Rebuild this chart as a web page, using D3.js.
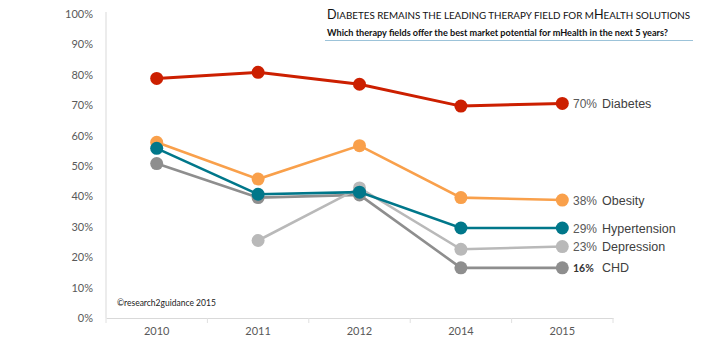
<!DOCTYPE html>
<html><head><meta charset="utf-8">
<script src="https://cdn.jsdelivr.net/npm/d3@7/dist/d3.min.js"></script>
<style>body{margin:0;background:#fff}svg{display:block}</style>
</head><body><svg id="c" width="720" height="340"></svg>
<script>
const years = ["2010","2011","2012","2014","2015"];
const yTicks = [0,10,20,30,40,50,60,70,80,90,100];
const diabetes = [78.8, 80.8, 76.9, 69.7, 70.6];
const obesity = [57.8, 45.7, 56.7, 39.6, 38.8];
const hypertension = [55.8, 40.7, 41.4, 29.6, 29.6];
const depression = [null, 25.5, 42.8, 22.6, 23.5];
const chd = [50.8, 39.6, 40.5, 16.5, 16.5];
const labels = ["70%","38%","29%","23%","16%"];
const names = ["Diabetes","Obesity","Hypertension","Depression","CHD"];
const title = "Diabetes remains the leading therapy field for mHealth solutions";
const subtitle = "Which therapy fields offer the best market potential for mHealth in the next 5 years?";
const copyright = "©research2guidance 2015";

const series = [
  {name:names[0], values:diabetes, label:labels[0], color:"#cc1f00", w:3},
  {name:names[1], values:obesity, label:labels[1], color:"#f9a04b", w:2.6},
  {name:names[4], values:chd, label:labels[4], color:"#8e8e8e", w:2.6, bold:true},
  {name:names[3], values:depression, label:labels[3], color:"#b9b9b9", w:2.6},
  {name:names[2], values:hypertension, label:labels[2], color:"#00778a", w:2.6}
];

const svg = d3.select("#c");
const x = d3.scaleBand().domain(years).range([106, 613]);
const y = d3.scaleLinear().domain([0,100]).range([318, 14]);

// y axis
const ya = svg.append("g").attr("transform","translate(106,0)")
  .call(d3.axisLeft(y).tickValues(yTicks).tickFormat(d=>d+"%").tickSize(0).tickPadding(13));
ya.select(".domain").attr("stroke","#d9d9d9").attr("d","M0,12V318");
ya.selectAll("text").attr("font-family","Lato, 'Open Sans', sans-serif").attr("font-size",11).attr("fill","#595959");

// x axis
const xa = svg.append("g").attr("transform","translate(0,318)")
  .call(d3.axisBottom(x).tickSize(0).tickPadding(9));
xa.select(".domain").attr("stroke","#d9d9d9");
xa.selectAll("text").attr("font-family","Lato, 'Open Sans', sans-serif").attr("font-size",11).attr("fill","#595959");
xa.selectAll(".sep").data(years.concat(["end"])).enter().append("line")
  .attr("x1",(d,i)=>106+i*x.step()).attr("x2",(d,i)=>106+i*x.step())
  .attr("y1",0).attr("y2",5).attr("stroke","#e0e0e0");

const cx = d => x(d)+x.bandwidth()/2;
const line = d3.line().defined(d=>d.v!=null).x(d=>cx(d.k)).y(d=>y(d.v));

series.forEach(s=>{
  const pts = years.map((k,i)=>({k, v:s.values[i]}));
  svg.append("path").datum(pts).attr("d",line).attr("fill","none")
    .attr("stroke",s.color).attr("stroke-width",s.w);
  svg.selectAll(null).data(pts.filter(p=>p.v!=null)).enter().append("circle")
    .attr("cx",p=>cx(p.k)).attr("cy",p=>y(p.v)).attr("r",6.5).attr("fill",s.color);
});

// end labels
const labelY = {"Diabetes":104,"Obesity":201,"Hypertension":229,"Depression":247,"CHD":268};
series.forEach(s=>{
  const yy = labelY[s.name];
  svg.append("text").attr("x",573).attr("y",yy).attr("dy","0.35em")
    .attr("font-family", s.bold ? "Lato, sans-serif" : "'Liberation Sans', Arial, sans-serif")
    .attr("font-size", s.bold ? 10.5 : 12).attr("font-weight", s.bold ? "bold":"normal")
    .attr("fill", s.bold ? "#333":"#595959").text(s.label);
  svg.append("text").attr("x",602).attr("y",yy).attr("dy","0.35em")
    .attr("font-family","'Liberation Sans', Arial, sans-serif").attr("font-size",12.5)
    .attr("fill","#404040").text(s.name);
});

// title with manual small caps
const tt = svg.append("text").attr("x",327).attr("y",19).attr("font-family","Lato, 'Open Sans', sans-serif")
  .attr("fill","#111");
const runs = title.match(/[A-Z]+|[^A-Z]+/g);
runs.forEach(r=>{
  const up = /^[A-Z]+$/.test(r);
  tt.append("tspan").attr("font-size", up ? 12.6 : 9.8).text(r.toUpperCase());
});
svg.append("text").attr("x",327).attr("y",36).attr("font-family","Lato, 'Open Sans', sans-serif")
  .attr("font-size",10).attr("font-weight","bold").attr("fill","#111")
  .attr("textLength",341).attr("lengthAdjust","spacingAndGlyphs").text(subtitle);
svg.append("line").attr("x1",325).attr("x2",693).attr("y1",40.5).attr("y2",40.5)
  .attr("stroke","#9cc3d9").attr("stroke-width",1.2);

svg.append("text").attr("x",117).attr("y",306).attr("font-family","Lato, 'Open Sans', sans-serif")
  .attr("font-size",8.5).attr("fill","#222").text(copyright);
</script></body></html>
